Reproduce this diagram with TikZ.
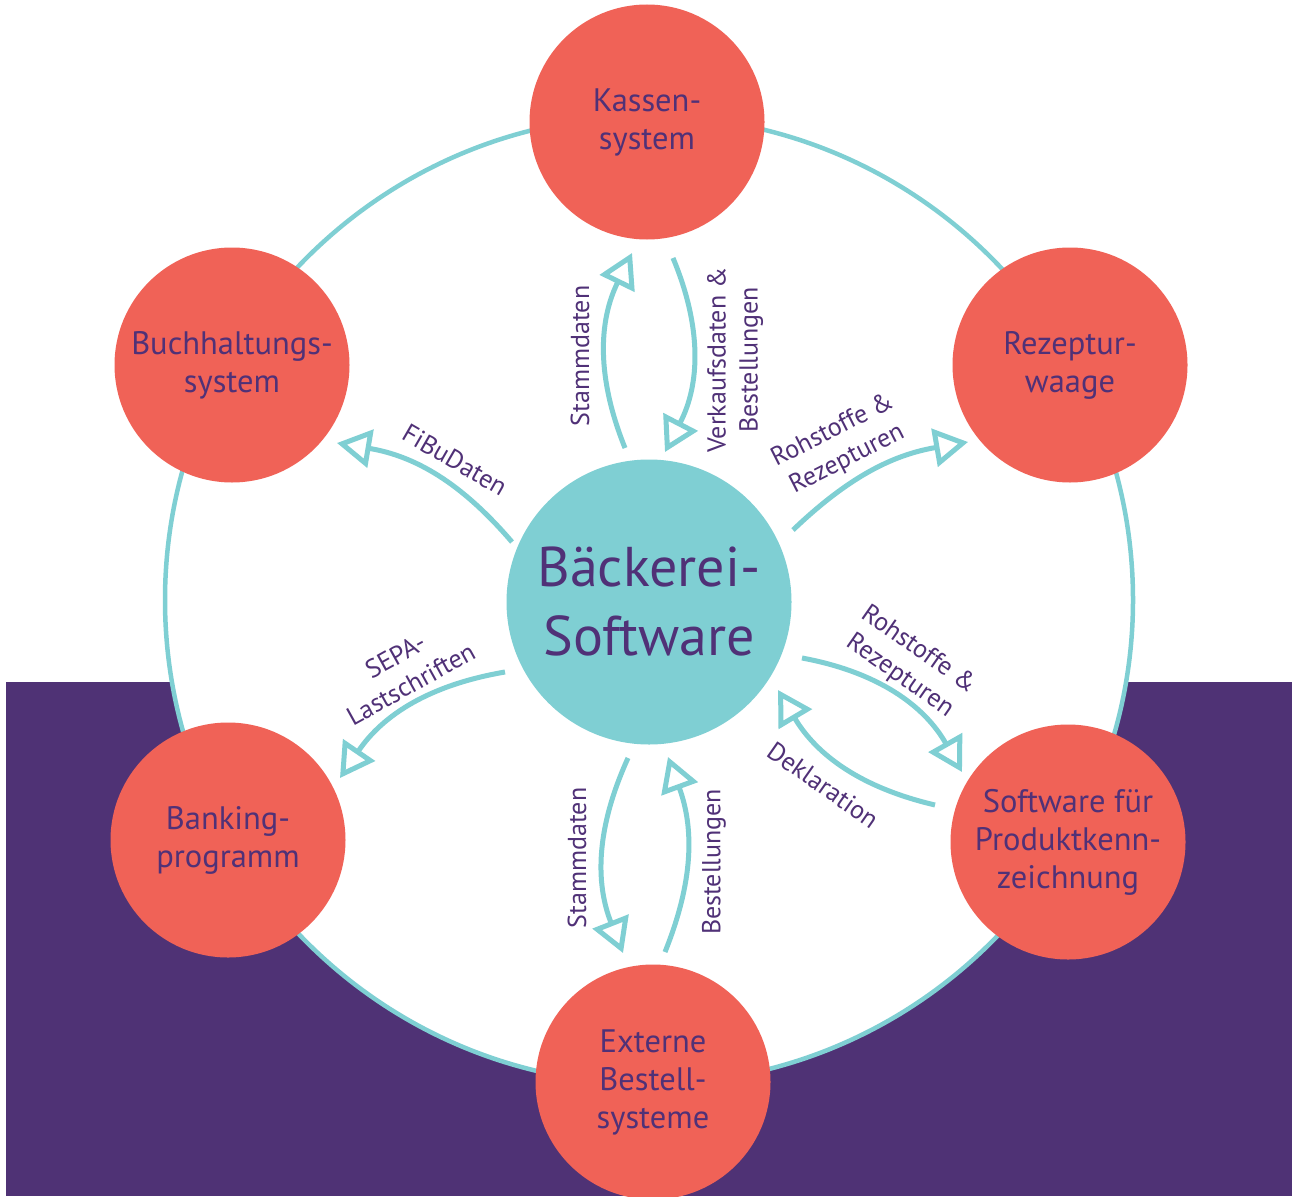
\documentclass[tikz,border=0pt]{standalone}
\usepackage{fontspec}
\setmainfont{PT Sans}
\usetikzlibrary{arrows.meta}
\definecolor{tl}{HTML}{7FCFD3}
\definecolor{rd}{HTML}{F06257}
\definecolor{pu}{HTML}{4F3275}
\definecolor{tx}{HTML}{503177}
\begin{document}
\begin{tikzpicture}[x=1pt,y=1pt,
  sat/.style={circle, fill=rd, minimum size=235pt, inner sep=0pt, text=tx, align=center, font=\fontsize{32.5}{38}\selectfont},
  hub/.style={circle, fill=tl, minimum size=285pt, inner sep=0pt, text=tx, align=center, font=\fontsize{56}{69}\selectfont},
  flow/.style={draw=tl, line width=5pt, -{Triangle[open, fill=white, length=34pt, width=38pt]}},
  lbl/.style={text=tx, align=center, font=\fontsize{26}{32}\selectfont, inner sep=0pt}]
\useasboundingbox (0,0) rectangle (1292,-1196);
\fill[pu] (6,-682) rectangle (1292,-1196);
\node[circle, draw=tl, fill=white, line width=4.5pt, minimum size=968pt, inner sep=0pt, outer sep=0pt] (ring) at (649,-600) {};
\node[hub] (hub) at (649,-602) {Bäckerei-\\Software};
\node[sat] (kasse) at (647,-122) {Kassen-\\system};
\node[sat] (waage) at (1070,-365) {Rezeptur-\\waage};
\node[sat] (kenn) at (1068,-842) {Software für\\Produktkenn-\\zeichnung};
\node[sat] (ext) at (653,-1082) {Externe\\Bestell-\\systeme};
\node[sat] (bank) at (228,-840) {Banking-\\programm};
\node[sat] (buch) at (232,-365) {Buchhaltungs-\\system};
% connector ends
\coordinate (a1s) at (625,-448); \coordinate (a1e) at (632,-253);
\coordinate (a2s) at (673,-258); \coordinate (a2e) at (665,-452);
\coordinate (a3s) at (628,-758); \coordinate (a3e) at (623,-953);
\coordinate (a4s) at (665,-952); \coordinate (a4e) at (668,-757);
\coordinate (a5s) at (793,-530); \coordinate (a5e) at (968,-442);
\coordinate (a6s) at (802,-658); \coordinate (a6e) at (962,-772);
\coordinate (a7s) at (935,-805); \coordinate (a7e) at (778,-690);
\coordinate (a8s) at (512,-542); \coordinate (a8e) at (337,-443);
\coordinate (a9s) at (505,-672); \coordinate (a9e) at (340,-778);
\draw[flow] (a1s) to[bend left=24] (a1e);
\draw[flow] (a2s) to[bend left=25] (a2e);
\draw[flow] (a3s) to[bend right=23] (a3e);
\draw[flow] (a4s) to[bend right=21] (a4e);
\draw[flow] (a5s) to[bend left=17] (a5e);
\draw[flow] (a6s) to[bend left=25] (a6e);
\draw[flow] (a7s) to[bend left=23] (a7e);
\draw[flow] (a8s) to[bend right=20] (a8e);
\draw[flow] (a9s) to[bend right=23] (a9e);
% labels
\node[lbl, rotate=90] (l1) at (580,-356) {Stammdaten};
\node[lbl, rotate=90] (l2) at (735,-360) {Verkaufsdaten \&\\Bestellungen};
\node[lbl, rotate=27] (l3) at (840,-445) {Rohstoffe \&\\Rezepturen};
\node[lbl, rotate=-35] (l4) at (909,-663) {Rohstoffe \&\\Rezepturen};
\node[lbl, rotate=-35] (l5) at (823,-785) {Deklaration};
\node[lbl, rotate=-30] (l6) at (455,-460) {FiBuDaten};
\node[lbl, rotate=29] (l7) at (403,-670) {SEPA-\\Lastschriften};
\node[lbl, rotate=90] (l8) at (577,-858) {Stammdaten};
\node[lbl, rotate=90] (l9) at (714,-862) {Bestellungen};
\end{tikzpicture}
\end{document}
